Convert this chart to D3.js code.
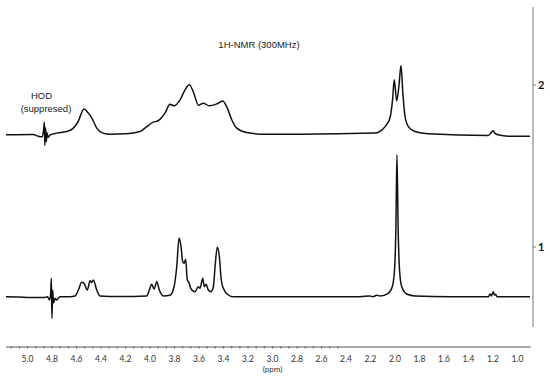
<!DOCTYPE html>
<html>
<head>
<meta charset="utf-8">
<script src="https://cdn.jsdelivr.net/npm/d3@7"></script>
<style>
  body { margin: 0; background: #fff; }
</style>
</head>
<body>
<div id="chart"></div>
<script>
/*************************************/
/* Data                              */
/*************************************/

// Stacked spectra: label on the right axis and vertical offset (intensity units)
const spectrumLabels = ['1', '2'];
const spectrumOffsets = [0, 114];

// Spectrum 1: [ppm, intensity]
const spectrum1 = [
  [5.176, 0], [4.865, -0.6], [4.837, 0], [4.822, -2.3], [4.812, 1.2], [4.806, 13],
  [4.801, -15.4], [4.795, 4.7], [4.788, -4.4], [4.776, -1.1], [4.763, -2.3], [4.735, 0],
  [4.653, 0], [4.612, 0.5], [4.585, 4.7], [4.558, 10.1], [4.539, 9.4], [4.512, 4.7],
  [4.490, 11.3], [4.476, 9.9], [4.463, 11.8], [4.435, 4.7], [4.408, 0.5], [4.245, 0.1],
  [4.027, 0.5], [4.006, 4.7], [3.986, 8.7], [3.967, 5.4], [3.945, 10.6], [3.924, 4.7],
  [3.891, 0.5], [3.837, 1], [3.804, 7], [3.782, 21.1], [3.763, 41.3], [3.747, 35.2],
  [3.733, 24.6], [3.722, 23.5], [3.709, 26.3], [3.696, 11.8], [3.682, 9.9], [3.668, 5.9],
  [3.633, 3.5], [3.606, 7], [3.592, 5.9], [3.570, 13], [3.557, 7], [3.543, 8.7],
  [3.524, 4.7], [3.504, 3.5], [3.483, 7], [3.469, 21.1], [3.451, 34.8], [3.434, 28.2],
  [3.420, 13], [3.402, 5.9], [3.361, 1.2], [3.320, 0], [2.776, 0], [2.286, 0],
  [2.204, 0.5], [2.180, 0], [2.149, 1], [2.122, 0.5], [2.055, 2.4], [2.022, 7],
  [2.004, 18.8], [1.993, 47], [1.984, 100], [1.974, 47], [1.963, 18.8], [1.945, 7],
  [1.904, 1.9], [1.837, 0.5], [1.551, 0], [1.300, 0], [1.236, 0], [1.224, 1.9],
  [1.212, 0.5], [1.198, 3.5], [1.188, 1.2], [1.178, 1.7], [1.167, 0], [0.898, 0]
];

// Spectrum 2: [ppm, intensity]
const spectrum2 = [
  [5.176, 0], [4.955, 0.2], [4.914, -1], [4.882, -1.4], [4.869, 3.5], [4.863, 8.9],
  [4.859, -7.5], [4.853, 4.9], [4.847, -4.9], [4.841, 1.4], [4.833, -1.8], [4.816, 0],
  [4.762, 1.2], [4.680, 2.3], [4.626, 4.7], [4.588, 9.2], [4.539, 18.1], [4.506, 15.5],
  [4.476, 12], [4.435, 4.7], [4.384, 1.2], [4.327, 0.4], [4.204, 0.7], [4.082, 2.3],
  [4.027, 5.8], [3.973, 8.9], [3.935, 9.9], [3.878, 15.3], [3.837, 21.6], [3.804, 20.4],
  [3.755, 24.6], [3.714, 31.7], [3.679, 35.2], [3.647, 30.3], [3.604, 20.8], [3.565, 22.3],
  [3.516, 20.4], [3.455, 21.8], [3.407, 23.9], [3.369, 18.8], [3.333, 10.6], [3.292, 4.7],
  [3.211, 1.6], [3.061, 0.4], [2.776, 0.4], [2.163, 1.2], [2.114, 3.0], [2.076, 6.3],
  [2.041, 11.8], [2.020, 24.6], [2.006, 38.7], [1.986, 23.9], [1.967, 35.2], [1.951, 48.8],
  [1.935, 28.2], [1.918, 12.9], [1.891, 5.8], [1.837, 2.3], [1.728, 0.7], [1.238, -0.4],
  [1.216, 1.4], [1.198, 2.8], [1.184, 1], [1.157, 0], [1.075, -1], [0.898, -1]
];

const spectra = [spectrum1, spectrum2];

// Axis ticks and texts
const xTickLabels = [5.0, 4.8, 4.6, 4.4, 4.2, 4.0, 3.8, 3.6, 3.4, 3.2, 3.0,
                     2.8, 2.6, 2.4, 2.2, 2.0, 1.8, 1.6, 1.4, 1.2, 1.0];
const xAxisTitle = '(ppm)';
const chartTitle = '1H-NMR (300MHz)';
const hodLabel = ['HOD', '(suppresed)'];
const hodPpm = 4.87;


/*************************************/
/* Layout                            */
/*************************************/

const width = 550;
const height = 376;

const x = d3.scaleLinear()
  .domain([5.176, 0.892])
  .range([6, 530.7]);

const y = d3.scaleLinear()
  .domain([0, 100])
  .range([296.7, 154.7]);

const axisY = 347;
const rightX = 533;

const svg = d3.select('#chart')
  .append('svg')
  .attr('width', width)
  .attr('height', height)
  .style('font-family', 'Lato, "Open Sans", sans-serif');


/*************************************/
/* Spectra                           */
/*************************************/

spectra.forEach((spec, i) => {
  const line = d3.line()
    .x(d => x(d[0]))
    .y(d => y(d[1] + spectrumOffsets[i]))
    .curve(d3.curveMonotoneX);

  svg.append('path')
    .datum(spec)
    .attr('fill', 'none')
    .attr('stroke', '#111')
    .attr('stroke-width', 1.5)
    .attr('stroke-linejoin', 'round')
    .attr('d', line);
});


/*************************************/
/* Axes                              */
/*************************************/

// Bottom ppm axis (labels every 0.2 ppm, two minor ticks between)
const minorTicks = d3.range(0, 14).map(k => +(5.2 - k * 0.2).toFixed(1))
  .flatMap(v => [v, v - 0.2 / 3, v - 0.4 / 3])
  .filter(v => v <= 5.176 && v >= 0.892);

const xAxisG = svg.append('g')
  .attr('transform', `translate(0,${axisY})`);

xAxisG.append('line')
  .attr('x1', x.range()[0])
  .attr('x2', x.range()[1])
  .attr('stroke', '#555')
  .attr('stroke-width', 1);

xAxisG.selectAll('line.tick')
  .data(minorTicks)
  .join('line')
    .attr('class', 'tick')
    .attr('x1', d => x(d))
    .attr('x2', d => x(d))
    .attr('y1', -1)
    .attr('y2', 1.5)
    .attr('stroke', '#666')
    .attr('stroke-width', 1);

xAxisG.selectAll('text.label')
  .data(xTickLabels)
  .join('text')
    .attr('class', 'label')
    .attr('x', d => x(d))
    .attr('y', 14.5)
    .attr('text-anchor', 'middle')
    .attr('font-size', 8.5)
    .attr('fill', '#333')
    .text(d => d3.format('.1f')(d));

xAxisG.append('text')
  .attr('x', x(3.0))
  .attr('y', 24.5)
  .attr('text-anchor', 'middle')
  .attr('font-size', 8)
  .attr('fill', '#333')
  .text(xAxisTitle);

// Right stack axis
const rightG = svg.append('g');

rightG.append('line')
  .attr('x1', rightX)
  .attr('x2', rightX)
  .attr('y1', 7)
  .attr('y2', 327)
  .attr('stroke', '#777')
  .attr('stroke-width', 1);

rightG.selectAll('line.tick')
  .data(spectrumOffsets)
  .join('line')
    .attr('class', 'tick')
    .attr('x1', rightX)
    .attr('x2', rightX + 3)
    .attr('y1', d => y(d + 35))
    .attr('y2', d => y(d + 35))
    .attr('stroke', '#777');

rightG.selectAll('text')
  .data(spectrumLabels)
  .join('text')
    .attr('x', rightX + 5)
    .attr('y', (d, i) => y(spectrumOffsets[i] + 35) + 4)
    .attr('font-size', 11)
    .attr('font-weight', 'bold')
    .attr('fill', '#111')
    .text(d => d);


/*************************************/
/* Annotations                       */
/*************************************/

svg.append('text')
  .attr('x', 259)
  .attr('y', 48)
  .attr('text-anchor', 'middle')
  .attr('font-family', '"Liberation Sans", Arial, sans-serif')
  .attr('font-size', 9.5)
  .attr('fill', '#222')
  .text(chartTitle);

svg.append('g')
  .selectAll('text')
  .data(hodLabel)
  .join('text')
    .attr('x', (d, i) => x(hodPpm) - 2 + i * 4.5)
    .attr('y', (d, i) => 99 + i * 13)
    .attr('text-anchor', 'middle')
    .attr('font-family', '"Liberation Sans", Arial, sans-serif')
    .attr('font-size', 9.5)
    .attr('fill', '#222')
    .text(d => d);
</script>
</body>
</html>
